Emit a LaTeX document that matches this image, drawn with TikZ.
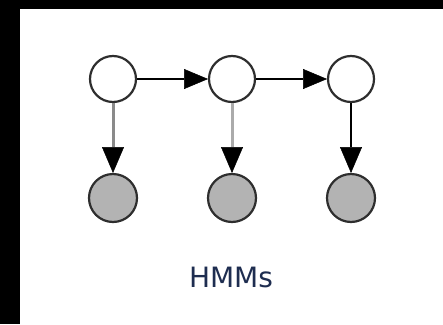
\documentclass[tikz,border=0pt]{standalone}
\usepackage{fontspec}
\setmainfont{DejaVu Sans}
\usetikzlibrary{arrows.meta}
\definecolor{obsfill}{HTML}{B3B3B3}
\definecolor{edgegray}{HTML}{2E2E2E}
\definecolor{lineA}{HTML}{8A8A8A}
\definecolor{lineB}{HTML}{ABABAB}
\definecolor{labelblue}{HTML}{1E2D50}
\tikzset{
  hidden/.style={circle, draw=edgegray, line width=2.2pt, fill=white, minimum size=46pt, inner sep=0pt, outer sep=1pt},
  observed/.style={circle, draw=edgegray, line width=2.2pt, fill=obsfill, minimum size=48pt, inner sep=0pt, outer sep=1pt},
  conn/.style={line width=2.4pt, -{Triangle[length=24pt,width=20pt,color=black,fill=black,line width=0.5pt]}},
  vconn/.style={line width=3pt, -{Triangle[length=26pt,width=22pt,color=black,fill=black,line width=0.5pt]}},
}
\begin{document}
\begin{tikzpicture}[x=1pt,y=-1pt]
\useasboundingbox (0,0) rectangle (443,324);
\fill[black] (0,0) rectangle (443,324);
\fill[white] (20,9) rectangle (443,324);
\node[hidden] (h1) at (113,79) {};
\node[hidden] (h2) at (232,79) {};
\node[hidden] (h3) at (351,79) {};
\node[observed] (o1) at (113,198) {};
\node[observed] (o2) at (232,198) {};
\node[observed] (o3) at (351,198) {};
\draw[conn, draw=black] (h1) -- (h2);
\draw[conn, draw=black] (h2) -- (h3);
\draw[vconn, draw=lineA] (h1) -- (o1);
\draw[vconn, draw=lineB] (h2) -- (o2);
\draw[vconn, draw=black, line width=2.4pt] (h3) -- (o3);
\node[text=labelblue, font=\fontsize{28}{32}\selectfont, inner sep=0pt] (lbl) at (231,277) {HMMs};
\end{tikzpicture}
\end{document}
